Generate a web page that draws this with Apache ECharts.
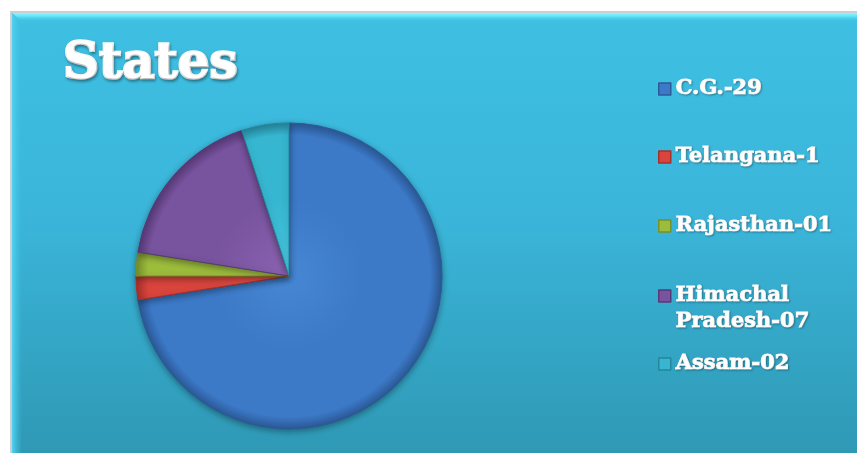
<!DOCTYPE html>
<html>
<head>
<meta charset="utf-8">
<script src="https://cdn.jsdelivr.net/npm/echarts@6/dist/echarts.min.js"></script>
<style>
  html, body { margin: 0; padding: 0; background: #ffffff; }
  #chart { width: 857px; height: 453px; }
</style>
</head>
<body>
<div id="chart"></div>
<script>
// Number of units per state
const states = ['C.G.-29', 'Telangana-1', 'Rajasthan-01', 'Himachal Pradesh-07', 'Assam-02'];
const counts = [29, 1, 1, 7, 2];
const baseColors = ['#3c79c7', '#d9453d', '#9cbc3c', '#78539e', '#36b6d0'];
const lightColors = ['#4687d3', '#e8574e', '#b0d04c', '#8a63b0', '#48c6de'];
const darkColors = ['#2c5a98', '#a8302a', '#76902a', '#573a78', '#25869c'];
const legendTops = [76, 144, 213, 257, 351];

const cx = 289, cy = 276, R = 153;

function sliceColor(i) {
  return new echarts.graphic.RadialGradient(cx, cy, R, [
    { offset: 0, color: lightColors[i] },
    { offset: 0.5, color: baseColors[i] },
    { offset: 0.92, color: baseColors[i] },
    { offset: 1, color: darkColors[i] }
  ], true);
}

const chart = echarts.init(document.getElementById('chart'), null, { renderer: 'canvas' });

const legends = states.map((name, i) => {
  const twoLine = name.indexOf('Himachal') === 0;
  return {
    left: 658,
    top: legendTops[i],
    padding: 0,
    orient: 'vertical',
    data: [{ name: name, icon: 'rect', itemStyle: { color: baseColors[i], borderColor: darkColors[i], borderWidth: 1.5 } }],
    itemWidth: 12,
    itemHeight: 12,
    itemGap: 0,
    selectedMode: false,
    // the wrapped entry gets an empty leading line so its first line sits beside the icon
    formatter: n => twoLine ? ' \n' + n.replace(' ', '\n') : n,
    textStyle: {
      color: '#ffffff',
      fontFamily: 'DejaVu Serif',
      fontWeight: 'bold',
      fontSize: 21,
      lineHeight: 26,
      textBorderColor: '#ffffff',
      textBorderWidth: 1,
      textShadowColor: 'rgba(0,0,0,0.25)',
      textShadowBlur: 2,
      textShadowOffsetX: 1,
      textShadowOffsetY: 1
    }
  };
});

const option = {
  backgroundColor: '#ffffff',
  animation: false,
  graphic: [
    // panel shadow
    { type: 'rect', z: -10, shape: { x: 10, y: 11, width: 860, height: 460 },
      style: { fill: '#c9cfd3' } },
    // panel body
    { type: 'rect', z: -9, shape: { x: 12, y: 13, width: 860, height: 460 },
      style: { fill: new echarts.graphic.LinearGradient(0, 0, 0, 1, [
        { offset: 0, color: '#3ec0e3' },
        { offset: 0.45, color: '#3ab5d9' },
        { offset: 1, color: '#2e96b2' }
      ]) } },
    // top bevel
    { type: 'polygon', z: -8, shape: { points: [[12, 13], [870, 13], [870, 22], [22, 22]] },
      style: { fill: new echarts.graphic.LinearGradient(0, 0, 0, 1, [
        { offset: 0, color: '#8ef6fd' },
        { offset: 0.35, color: '#62e6f8' },
        { offset: 1, color: 'rgba(62,192,227,0)' }
      ]) } },
    // left bevel
    { type: 'polygon', z: -8, shape: { points: [[12, 13], [22, 22], [22, 460], [12, 460]] },
      style: { fill: new echarts.graphic.LinearGradient(0, 0, 1, 0, [
        { offset: 0, color: '#52d2ee' },
        { offset: 1, color: 'rgba(62,192,227,0)' }
      ]) } }
  ],
  title: {
    text: 'States',
    left: 58,
    top: 35,
    textStyle: {
      color: '#ffffff',
      fontFamily: 'DejaVu Serif',
      fontWeight: 900,
      fontSize: 50,
      textBorderColor: '#ffffff',
      textBorderWidth: 2.5,
      textShadowColor: 'rgba(0,0,0,0.3)',
      textShadowBlur: 3,
      textShadowOffsetX: 1,
      textShadowOffsetY: 2
    }
  },
  legend: legends,
  series: [{
    type: 'pie',
    center: [cx, cy],
    radius: [0, R],
    startAngle: 90,
    clockwise: true,
    label: { show: false },
    labelLine: { show: false },
    emphasis: { disabled: true },
    data: states.map((name, i) => ({
      name: name,
      value: counts[i],
      itemStyle: {
        color: sliceColor(i),
        borderColor: darkColors[i],
        borderWidth: 1,
        shadowColor: 'rgba(0,0,0,0.35)',
        shadowBlur: 6,
        shadowOffsetY: 2
      }
    }))
  }]
};

chart.setOption(option);
</script>
</body>
</html>
